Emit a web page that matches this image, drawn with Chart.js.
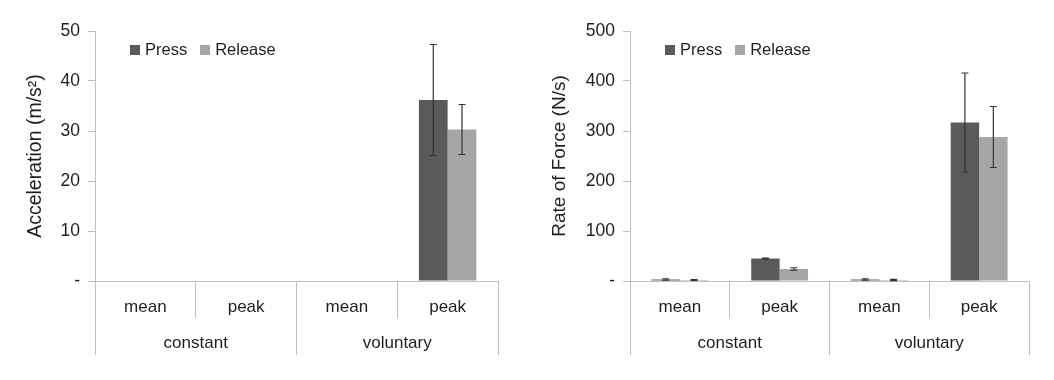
<!DOCTYPE html>
<html>
<head>
<meta charset="utf-8">
<script src="https://cdn.jsdelivr.net/npm/chart.js@4.4.1/dist/chart.umd.min.js"></script>
<style>
  html, body { margin: 0; padding: 0; background: #ffffff; }
  #wrap { position: relative; width: 1054px; height: 380px; }
  .panel { position: absolute; top: 0; width: 527px; height: 380px; }
  .legend { position: absolute; top: 40px; display: flex; align-items: center;
            font-family: "Liberation Sans", Arial, sans-serif; font-size: 16.5px; color: #1e1e1e; }
  .legend .item { display: flex; align-items: center; margin-right: 13px; }
  .legend .sw { width: 10px; height: 10px; margin-right: 5px; }
</style>
</head>
<body>
<div id="wrap">
  <div class="panel" style="left:0"><canvas id="c1" width="527" height="380"></canvas><div class="legend" id="lg1" style="left:130px"></div></div>
  <div class="panel" style="left:527px"><canvas id="c2" width="527" height="380"></canvas><div class="legend" id="lg2" style="left:138px"></div></div>
</div>
<script>
// ---- data ----
const categories = ['mean', 'peak', 'mean', 'peak'];
const groups = ['constant', 'voluntary'];
const seriesNames = ['Press', 'Release'];
const seriesColors = ['#5a5a5a', '#a6a6a6'];

const accPress = [null, null, null, 36.2];
const accRelease = [null, null, null, 30.3];
const accPressErr = [null, null, null, 11.1];
const accReleaseErr = [null, null, null, 5.0];
const accTickLabels = ['-', '10', '20', '30', '40', '50'];

const rofPress = [3, 45, 3, 317];
const rofRelease = [2, 24, 2, 288];
const rofPressErr = [1.5, 0.8, 1.5, 99];
const rofReleaseErr = [1, 2.5, 1.2, 61];
const rofTickLabels = ['-', '100', '200', '300', '400', '500'];

Chart.defaults.font.family = '"Liberation Sans", Arial, sans-serif';
Chart.defaults.color = '#1e1e1e';

const lineColor = '#bfbfbf';
const textColor = '#1e1e1e';

const errorBarPlugin = {
  id: 'errorBars',
  afterDatasetsDraw(chart) {
    const ctx = chart.ctx;
    const ys = chart.scales.y;
    chart.data.datasets.forEach((ds, d) => {
      const meta = chart.getDatasetMeta(d);
      meta.data.forEach((el, i) => {
        const v = ds.data[i];
        const e = ds.errors[i];
        if (v === null || e === null || e === undefined) return;
        const x = el.x;
        const yt = ys.getPixelForValue(v + e);
        const yb = ys.getPixelForValue(v - e);
        ctx.save();
        ctx.strokeStyle = '#333333';
        ctx.lineWidth = 1.2;
        ctx.beginPath();
        ctx.moveTo(x, yt); ctx.lineTo(x, yb);
        ctx.moveTo(x - 3.5, yt); ctx.lineTo(x + 3.5, yt);
        ctx.moveTo(x - 3.5, yb); ctx.lineTo(x + 3.5, yb);
        ctx.stroke();
        ctx.restore();
      });
    });
  }
};

function makeChart(id, press, release, pressErr, releaseErr, yMax, step, tickLabels, title, titleSize, yWidth, titlePad, padRight) {
  return new Chart(document.getElementById(id), {
    type: 'bar',
    data: {
      labels: categories,
      datasets: [
        { label: seriesNames[0], data: press, errors: pressErr, backgroundColor: seriesColors[0], borderWidth: 0 },
        { label: seriesNames[1], data: release, errors: releaseErr, backgroundColor: seriesColors[1], borderWidth: 0 }
      ]
    },
    options: {
      responsive: false,
      animation: false,
      devicePixelRatio: 1,
      categoryPercentage: 0.57,
      barPercentage: 1.0,
      layout: { padding: { top: 31, bottom: 25, left: 0, right: padRight } },
      plugins: { legend: { display: false }, tooltip: { enabled: false } },
      scales: {
        x: {
          type: 'category',
          position: 'bottom',
          offset: true,
          grid: { offset: true, drawOnChartArea: false, drawTicks: true, tickLength: 37, color: lineColor, lineWidth: 1 },
          border: { display: true, color: lineColor, width: 1 },
          ticks: { padding: -21, font: { size: 17 }, color: textColor, maxRotation: 0, autoSkip: false },
          afterFit: (s) => { s.height = 37; }
        },
        x2: {
          type: 'category',
          position: 'bottom',
          labels: groups,
          offset: true,
          grid: { offset: true, drawOnChartArea: false, drawTicks: true, tickLength: 37, color: lineColor, lineWidth: 1 },
          border: { display: false },
          ticks: { padding: -22, font: { size: 17 }, color: textColor, maxRotation: 0, autoSkip: false },
          afterFit: (s) => { s.height = 37; }
        },
        y: {
          min: 0, max: yMax,
          grid: { drawOnChartArea: false, drawTicks: true, tickLength: 7, color: lineColor, lineWidth: 1 },
          border: { display: true, color: lineColor, width: 1 },
          ticks: { stepSize: step, padding: 8, font: { size: 17.5 }, color: textColor,
                   callback: (v, i) => tickLabels[i] },
          title: { display: true, text: title, font: { size: titleSize }, color: textColor, padding: { top: titlePad, bottom: 0 } },
          afterFit: (s) => { s.width = yWidth; }
        }
      }
    },
    plugins: [errorBarPlugin]
  });
}

makeChart('c1', accPress, accRelease, accPressErr, accReleaseErr, 50, 10, accTickLabels, 'Acceleration (m/s²)', 19.5, 95, 24, 29);
makeChart('c2', rofPress, rofRelease, rofPressErr, rofReleaseErr, 500, 100, rofTickLabels, 'Rate of Force (N/s)', 19, 103, 21, 25);

function buildLegend(id) {
  const lg = document.getElementById(id);
  seriesNames.forEach((n, i) => {
    const it = document.createElement('div'); it.className = 'item';
    const sw = document.createElement('div'); sw.className = 'sw'; sw.style.background = seriesColors[i];
    const tx = document.createElement('span'); tx.textContent = n;
    it.appendChild(sw); it.appendChild(tx); lg.appendChild(it);
  });
}
buildLegend('lg1');
buildLegend('lg2');
</script>
</body>
</html>
